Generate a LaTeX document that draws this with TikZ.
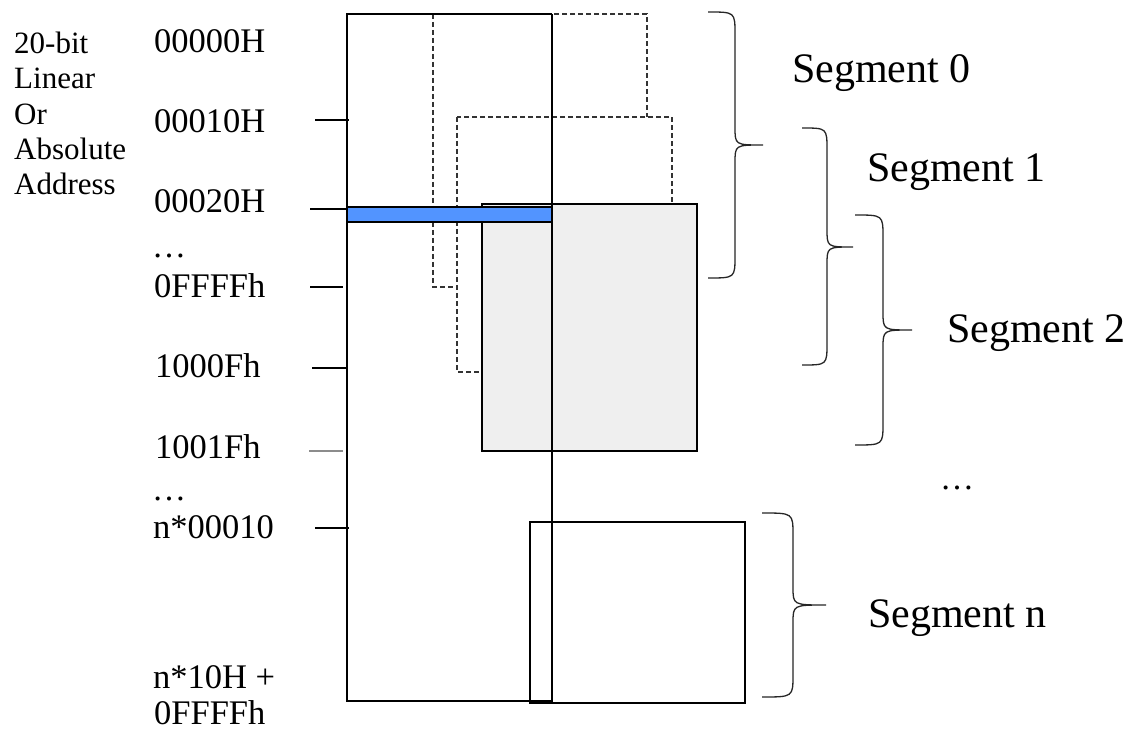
\documentclass[tikz,border=0pt]{standalone}
\usepackage{fontspec}
\setmainfont{Liberation Serif}
\definecolor{barblue}{RGB}{82,148,255}
\definecolor{seggray}{RGB}{239,239,239}
\newcommand\segbrace[6]{%
  \draw[brace] (#1,#4) .. controls (#2,#4) .. (#2,#4+22) -- (#2,#5-18)
    .. controls (#2,#5) .. (#3,#5) .. controls (#2,#5) .. (#2,#5+18)
    -- (#2,#6-22) .. controls (#2,#6) .. (#1,#6);}
\begin{document}
\begin{tikzpicture}[x=1pt,y=-1pt,
  box/.style={draw=black,line width=2pt},
  dbox/.style={draw=black!80,line width=1.6pt,dash pattern=on 5pt off 3pt},
  brace/.style={draw=black!85,line width=1.3pt},
  addr/.style={anchor=base west,inner sep=0pt,font=\fontsize{34.5}{40}\selectfont},
  dots/.style={anchor=base west,inner sep=0pt,font=\fontsize{34}{40}\selectfont},
  side/.style={anchor=base west,inner sep=0pt,font=\fontsize{31}{35}\selectfont},
  seg/.style={anchor=base west,inner sep=0pt,font=\fontsize{42}{48}\selectfont},
  tickline/.style={line width=2pt}]
\useasboundingbox (0,0) rectangle (1130,730);
\fill[white] (0,0) rectangle (1130,730);

% segment 0 and 1 (dashed), segment 2 (grey)
\draw[dbox,fill=white] (433,14) rectangle (647,287);
\draw[dbox,fill=white] (457,117) rectangle (672,372);
\draw[box,fill=seggray] (482,204) rectangle (697,451);

% main memory
\coordinate (mtl) at (347,14);
\coordinate (mtr) at (552,14);
\coordinate (mbl) at (347,701);
\coordinate (mbr) at (552,701);
\draw[box] (mtr) -- (mtl) -- (mbl) -- (mbr);

% segment n
\draw[box] (530,522) rectangle (745,703);
\draw[box] (mtr) -- (552,703);

% blue bar
\draw[line width=2pt,fill=barblue] (347,207) rectangle (552,222);

% ticks
\draw[tickline] (315,120) -- (349,120);
\draw[tickline] (310,209) -- (347,209);
\draw[tickline] (310,287) -- (343,287);
\draw[tickline] (312,368) -- (347,368);
\draw[tickline,draw=black!45] (309,451) -- (343,451);
\draw[tickline] (315,528) -- (349,528);

% side label
\node[side] (s1) at (14,54) {20-bit};
\node[side] (s2) at (14,89) {Linear};
\node[side] (s3) at (14,125) {Or};
\node[side] (s4) at (14,160) {Absolute};
\node[side] (s5) at (14,195) {Address};

% addresses
\node[addr] (a0) at (154,53) {00000H};
\node[addr] (a1) at (154,133) {00010H};
\node[addr] (a2) at (154,213) {00020H};
\node[dots] (d1) at (152,258) {…};
\node[addr] (a3) at (154,297) {0FFFFh};
\node[addr] (a4) at (155,377) {1000Fh};
\node[addr] (a5) at (155,458) {1001Fh};
\node[dots] (d2) at (152,500) {…};
\node[addr] (a6) at (153,538) {n*00010};
\node[addr] (a7) at (153,688) {n*10H +};
\node[addr,text depth=0pt] (a8) at (154,724) {0FFFFh};

% braces
\segbrace{708}{735}{763}{12}{145}{278}
\segbrace{802}{827}{853}{128}{247}{365}
\segbrace{855}{883}{912}{215}{330}{445}
\segbrace{762}{793}{826}{513}{605}{697}

% segment labels
\node[seg] (g0) at (792,83) {Segment 0};
\node[seg] (g1) at (867,182) {Segment 1};
\node[seg] (g2) at (947,342) {Segment 2};
\node[seg] (gn) at (868,627) {Segment n};
\node[dots] (d3) at (940,489) {…};
\end{tikzpicture}
\end{document}
